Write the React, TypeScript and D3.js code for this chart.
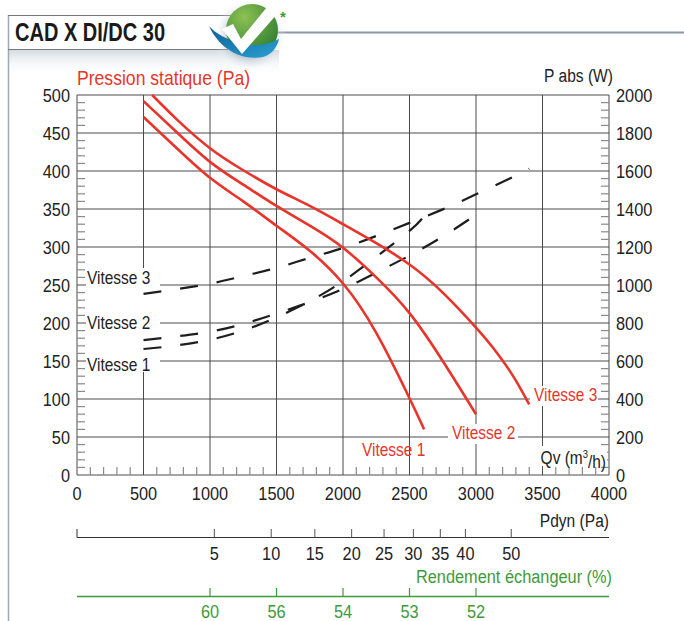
import React from 'react';
import * as d3 from 'd3';

// static pressure (Pa) vs airflow (m3/h)
const QV_PS_V1 = [500, 750, 1000, 1250, 1500, 1750, 2000, 2250, 2500, 2610];
const PS_V1 = [471, 430, 391, 360, 328, 295, 252, 187, 101, 60];
const QV_PS_V2 = [500, 750, 1000, 1250, 1500, 1750, 2000, 2250, 2500, 2750, 3000];
const PS_V2 = [492, 451, 412, 382, 354, 328, 299, 260, 213, 150, 80];
const QV_PS_V3 = [565, 750, 1000, 1250, 1500, 1750, 2000, 2250, 2500, 2750, 3000, 3125, 3250, 3340, 3400];
const PS_V3 = [500, 468, 430, 401, 376, 354, 330, 305, 277, 240, 194, 168, 138, 112, 93];

// absorbed power (W)
const QV_PW_V1 = [500, 750, 1000, 1250, 1500, 1750, 2000, 2250, 2500, 2600];
const PW_V1 = [663, 682, 712, 760, 830, 915, 1020, 1148, 1285, 1354];
const QV_PW_V2 = [500, 750, 1000, 1250, 1500, 1750, 2000, 2250, 2500, 2750, 3000];
const PW_V2 = [710, 730, 754, 795, 850, 910, 980, 1065, 1155, 1255, 1370];
const QV_PW_V3 = [500, 750, 1000, 1250, 1500, 1750, 2000, 2250, 2500, 2750, 3000, 3250, 3400];
const PW_V3 = [953, 978, 1007, 1047, 1090, 1143, 1195, 1258, 1327, 1398, 1477, 1559, 1612];

const QV_TICKS = [0, 500, 1000, 1500, 2000, 2500, 3000, 3500, 4000];
const PS_TICKS = [0, 50, 100, 150, 200, 250, 300, 350, 400, 450, 500];
const PW_TICKS = [0, 200, 400, 600, 800, 1000, 1200, 1400, 1600, 1800, 2000];
const PDYN_TICKS = [5, 10, 15, 20, 25, 30, 35, 40, 50];
const PDYN_MAX = 50;
const QV_AT_PDYN_MAX = 3265;
const REND_QV = [1000, 1500, 2000, 2500, 3000];
const REND_LABELS = ['60', '56', '54', '53', '52'];

const W = 684;
const H = 621;
const FONT = '"Liberation Sans", Arial, sans-serif';
const SX = 0.86; // horizontal squeeze, mimics a condensed face
const RED = '#e8352b';
const GREEN = '#3f9a3c';
const GRID = '#4a4a4a';
const TICK = '#8a8a8a';

const x = d3.scaleLinear().domain([0, 4000]).range([77, 609]);
const y = d3.scaleLinear().domain([0, 500]).range([475, 95]);
const yW = d3.scaleLinear().domain([0, 2000]).range([475, 95]);
const xPdyn = d3.scalePow().exponent(0.5).domain([0, PDYN_MAX]).range([x(0), x(QV_AT_PDYN_MAX)]);

const linePs = d3.line<[number, number]>()
  .x((d) => x(d[0]))
  .y((d) => y(d[1]))
  .curve(d3.curveNatural);
const linePw = d3.line<[number, number]>()
  .x((d) => x(d[0]))
  .y((d) => yW(d[1]))
  .curve(d3.curveNatural);

const redCurves = [
  d3.zip(QV_PS_V1, PS_V1),
  d3.zip(QV_PS_V2, PS_V2),
  d3.zip(QV_PS_V3, PS_V3),
] as [number, number][][];
const powerCurves = [
  d3.zip(QV_PW_V1, PW_V1),
  d3.zip(QV_PW_V2, PW_V2),
  d3.zip(QV_PW_V3, PW_V3),
] as [number, number][][];

const minorPs = d3.range(10, 500, 10).filter((v) => v % 50 !== 0);
const minorPw = d3.range(40, 2000, 40).filter((v) => v % 200 !== 0);
const minorQv = d3.range(100, 4000, 100).filter((v) => v % 500 !== 0);

type TProps = {
  x: number;
  y: number;
  size: number;
  anchor?: 'start' | 'middle' | 'end';
  fill?: string;
  bold?: boolean;
  sx?: number;
  children: React.ReactNode;
};

// narrow text: scaled on x only
function T({ x: tx, y: ty, size, anchor = 'start', fill = '#222', bold, sx = SX, children }: TProps) {
  return (
    <text
      transform={`translate(${tx},${ty}) scale(${sx},1)`}
      dy="0.35em"
      fontFamily={FONT}
      fontSize={size}
      fontWeight={bold ? 'bold' : 'normal'}
      fill={fill}
      textAnchor={anchor}
    >
      {children}
    </text>
  );
}

function Logo() {
  return (
    <g>
      <defs>
        <radialGradient id="lg-green" cx="0.35" cy="0.25" r="0.8">
          <stop offset="0" stopColor="#8cc152" />
          <stop offset="1" stopColor="#2f7d32" />
        </radialGradient>
        <linearGradient id="lg-blue" x1="0" y1="0" x2="1" y2="1">
          <stop offset="0" stopColor="#0f5f9a" />
          <stop offset="1" stopColor="#2aa0d0" />
        </linearGradient>
        <radialGradient id="lg-shadow" cx="0.5" cy="0.5" r="0.5">
          <stop offset="0.6" stopColor="#9fb0bf" stopOpacity={0.6} />
          <stop offset="1" stopColor="#ffffff" stopOpacity={0} />
        </radialGradient>
      </defs>
      <circle cx={250} cy={35} r={37} fill="url(#lg-shadow)" />
      <circle cx={252} cy={30} r={26} fill="url(#lg-green)" />
      <path
        d="M209,26 C219,48 240,61 263,57 C271,55 277,48 279,39 C266,46 252,47 240,43 C226,39 216,34 209,26 Z"
        fill="url(#lg-blue)"
      />
      <path d="M222,29 L233,24 L241,39 L267,7 L278,13 L242,54 Z" fill="#ffffff" />
      <text x={280} y={22} fontFamily={FONT} fontSize={15} fontWeight="bold" fill={GREEN}>*</text>
    </g>
  );
}

export default function App() {
  return (
    <div style={{ position: 'absolute', left: 0, top: 0 }}>
      <svg width={W} height={H} viewBox={`0 0 ${W} ${H}`} style={{ display: 'block', background: '#fff' }}>
        <defs>
          <linearGradient id="shadow" x1="0" y1="0" x2="0" y2="1">
            <stop offset="0" stopColor="#c9d3dc" stopOpacity={0.8} />
            <stop offset="1" stopColor="#ffffff" stopOpacity={0} />
          </linearGradient>
        </defs>

        {/* header */}
        <rect x={9} y={50} width={270} height={26} fill="url(#shadow)" />
        <line x1={8.5} x2={8.5} y1={15} y2={H} stroke="#9aabba" strokeWidth={1.5} />
        <line x1={8} x2={232} y1={15.5} y2={15.5} stroke="#777" />
        <line x1={8} x2={228} y1={49.5} y2={49.5} stroke="#777" />
        <line x1={272} x2={W} y1={32.5} y2={32.5} stroke="#8c99a3" strokeWidth={2} />
        <T x={15} y={32} size={26} bold sx={0.77} fill="#1a1a1a">CAD X DI/DC 30</T>
        <Logo />

        {/* grid */}
        {PS_TICKS.map((v) => (
          <line key={`h${v}`} x1={x(0)} x2={x(4000)} y1={y(v)} y2={y(v)} stroke={GRID} strokeWidth={1} />
        ))}
        {QV_TICKS.map((v) => (
          <line key={`v${v}`} x1={x(v)} x2={x(v)} y1={y(0)} y2={y(500)} stroke={GRID} strokeWidth={1} />
        ))}
        {minorPs.map((v) => (
          <line key={`mp${v}`} x1={x(0)} x2={x(0) + 8} y1={y(v)} y2={y(v)} stroke={TICK} strokeWidth={1.2} />
        ))}
        {minorPw.map((v) => (
          <line key={`mw${v}`} x1={x(4000) - 8} x2={x(4000)} y1={yW(v)} y2={yW(v)} stroke={TICK} strokeWidth={1.2} />
        ))}
        {minorQv.map((v) => (
          <line key={`mq${v}`} x1={x(v)} x2={x(v)} y1={y(0)} y2={y(0) - 8} stroke={TICK} strokeWidth={1.2} />
        ))}

        {/* white label backgrounds cutting the grid */}
        <rect x={86} y={268} width={74} height={104} fill="#fff" />
        <rect x={448} y={424} width={70} height={20} fill="#fff" />
        <rect x={530} y={386} width={68} height={20} fill="#fff" />
        <rect x={525} y={446} width={82} height={20} fill="#fff" />

        {/* power curves */}
        {powerCurves.map((pts, i) => (
          <path
            key={`pw${i}`}
            d={linePw(pts) ?? ''}
            fill="none"
            stroke="#1e1e1e"
            strokeWidth={2.2}
            strokeDasharray="18 19"
          />
        ))}

        {/* pressure curves */}
        {redCurves.map((pts, i) => (
          <path key={`ps${i}`} d={linePs(pts) ?? ''} fill="none" stroke={RED} strokeWidth={2.6} />
        ))}

        {/* axis labels */}
        {PS_TICKS.map((v) => (
          <T key={`lp${v}`} x={70} y={y(v)} size={19} anchor="end">{v}</T>
        ))}
        {PW_TICKS.map((v) => (
          <T key={`lw${v}`} x={616} y={yW(v)} size={19}>{v}</T>
        ))}
        {QV_TICKS.map((v) => (
          <T key={`lq${v}`} x={x(v)} y={493} size={19} anchor="middle">{v}</T>
        ))}
        <T x={77} y={78} size={20} fill={RED} sx={0.88}>Pression statique (Pa)</T>
        <T x={613} y={75} size={19} anchor="end" sx={0.82}>P abs (W)</T>

        <T x={87} y={278} size={18}>Vitesse 3</T>
        <T x={87} y={323} size={18}>Vitesse 2</T>
        <T x={87} y={365} size={18}>Vitesse 1</T>
        <text transform={`translate(606,458) scale(${SX},1)`} dy="0.35em" fontFamily={FONT} fontSize={18} fill="#222" textAnchor="end">
          Qv (m<tspan fontSize={11} dy="-0.55em">3</tspan><tspan dy="0.55em">/h)</tspan>
        </text>
        <T x={362} y={450} size={18} fill={RED}>Vitesse 1</T>
        <T x={452} y={433} size={18} fill={RED}>Vitesse 2</T>
        <T x={534} y={395} size={18} fill={RED}>Vitesse 3</T>

        {/* Pdyn scale */}
        <T x={609} y={520} size={19} anchor="end" sx={0.82}>Pdyn (Pa)</T>
        <line x1={x(0)} x2={x(4000)} y1={537.5} y2={537.5} stroke="#333" strokeWidth={1} />
        <line x1={x(0)} x2={x(0)} y1={529} y2={537.5} stroke="#333" strokeWidth={1} />
        {PDYN_TICKS.map((v) => (
          <g key={`pd${v}`}>
            <line x1={xPdyn(v)} x2={xPdyn(v)} y1={529} y2={537.5} stroke="#555" strokeWidth={1} />
            <T x={xPdyn(v)} y={553} size={19} anchor="middle">{v}</T>
          </g>
        ))}

        {/* heat exchanger efficiency scale */}
        <T x={612} y={576} size={19} anchor="end" fill={GREEN} sx={0.86}>Rendement échangeur (%)</T>
        <line x1={x(0)} x2={x(4000)} y1={596.5} y2={596.5} stroke={GREEN} strokeWidth={1.5} />
        {REND_QV.map((v, i) => (
          <g key={`rd${v}`}>
            <line x1={x(v)} x2={x(v)} y1={588} y2={596.5} stroke={GREEN} strokeWidth={1.2} />
            <T x={x(v)} y={611} size={19} anchor="middle" fill={GREEN}>{REND_LABELS[i]}</T>
          </g>
        ))}
      </svg>
    </div>
  );
}
